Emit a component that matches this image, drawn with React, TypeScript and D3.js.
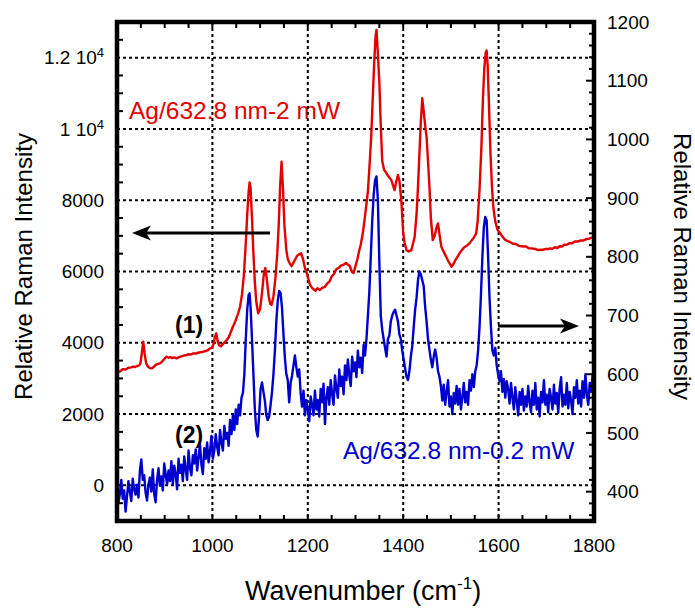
import React from "react";
import * as d3 from "d3";

// red spectrum (left axis), [wavenumber, intensity]
const redSpectrum: [number, number][] = [
  [800,3230],[806,3190],[812,3260],[818,3250],[824,3300],[830,3310],[834,3330],[838,3320],[842,3350],[846,3360],
  [849,3420],[852,3700],[855,4030],[858,3700],[861,3430],[865,3330],[869,3290],[873,3283],[877,3320],[881,3380],
  [885,3400],[890,3423],[895,3480],[900,3560],[904,3610],[908,3580],[912,3600],[916,3570],[920,3590],[925,3563],
  [930,3600],[935,3620],[940,3640],[946,3656],[950,3680],[955,3670],[960,3704],[965,3700],[970,3720],[975,3735],
  [981,3750],[986,3770],[990,3790],[995,3844],[999,3860],[1002,3950],[1005,4150],[1008,4265],[1011,4050],[1014,3930],
  [1018,3900],[1022,3960],[1026,4020],[1030,4077],[1034,4150],[1038,4280],[1043,4450],[1048,4600],[1054,4826],[1058,5012],
  [1062,5350],[1066,5900],[1070,6800],[1073,7600],[1076,8250],[1078,8500],[1080,8350],[1083,7500],[1086,6500],[1089,5700],
  [1092,5150],[1096,4830],[1100,4950],[1104,5400],[1108,5950],[1111,6100],[1114,5800],[1118,5300],[1121,5100],[1124,5060],
  [1128,5300],[1132,5800],[1136,6500],[1139,7300],[1142,8400],[1145,9080],[1148,8300],[1151,7300],[1155,6600],[1158,6350],
  [1162,6230],[1166,6150],[1170,6250],[1174,6350],[1178,6450],[1182,6480],[1186,6510],[1190,6350],[1194,6100],[1197,6000],
  [1201,5800],[1205,5620],[1208,5560],[1212,5500],[1216,5460],[1220,5530],[1225,5480],[1230,5540],[1235,5560],[1240,5650],
  [1246,5730],[1250,5860],[1255,5930],[1260,6070],[1265,6100],[1270,6170],[1275,6190],[1280,6240],[1284,6190],[1288,6160],
  [1292,6000],[1296,5960],[1300,6150],[1304,6350],[1308,6600],[1311,6750],[1315,7050],[1319,7450],[1323,7900],[1326,8250],
  [1330,9100],[1333,9800],[1336,10800],[1339,11800],[1342,12600],[1344,12780],[1347,12100],[1350,11300],[1353,10100],[1356,9100],
  [1360,8850],[1365,8755],[1370,8650],[1375,8567],[1379,8400],[1382,8286],[1385,8500],[1389,8707],[1392,8550],[1396,8006],
  [1400,7080],[1403,6800],[1407,6600],[1412,6560],[1417,6600],[1420,6750],[1424,6975],[1428,7600],[1431,8380],[1434,9300],
  [1437,10200],[1440,10860],[1443,10500],[1446,10100],[1449,9780],[1452,9100],[1455,8380],[1458,7500],[1462,6880],[1466,7000],
  [1470,7250],[1473,7350],[1476,7050],[1480,6695],[1485,6550],[1490,6415],[1495,6280],[1501,6135],[1505,6200],[1510,6330],
  [1514,6420],[1518,6510],[1523,6600],[1528,6680],[1533,6720],[1539,6790],[1544,6880],[1548,6950],[1553,7070],[1556,7400],
  [1560,8286],[1564,9500],[1567,10800],[1570,11700],[1573,12150],[1575,12200],[1577,11800],[1580,10600],[1583,9300],[1586,8400],
  [1589,7800],[1593,7400],[1598,7164],[1603,7080],[1608,6980],[1613,6900],[1618,6860],[1623,6830],[1630,6780],[1636,6770],
  [1642,6720],[1648,6710],[1653,6700],[1658,6700],[1663,6650],[1668,6650],[1673,6640],[1678,6630],[1683,6600],[1688,6610],
  [1693,6610],[1698,6630],[1703,6630],[1708,6650],[1713,6640],[1718,6680],[1723,6660],[1728,6710],[1733,6700],[1738,6750],
  [1743,6750],[1749,6800],[1754,6790],[1760,6840],[1766,6840],[1772,6870],[1778,6870],[1784,6910],[1790,6920],[1795,6950],
  [1800,6960],
];

// blue spectrum (right axis), [wavenumber, intensity]
const blueSpectrum: [number, number][] = [
  [800,410],[803,380],[806,396],[809,420],[812,388],[815,402],[818,366],[821,392],[824,418],[827,400],[830,384],[833,422],
  [836,404],[839,395],[842,412],[845,390],[848,436],[851,455],[854,420],[857,428],[860,398],[863,385],[866,412],[869,424],
  [872,400],[875,438],[878,396],[881,382],[884,420],[887,440],[890,410],[893,426],[896,402],[899,448],[902,430],[905,412],
  [908,436],[911,418],[914,452],[917,412],[920,444],[923,430],[926,404],[929,456],[932,432],[935,446],[938,418],[941,460],
  [944,438],[947,420],[950,470],[953,440],[956,428],[959,462],[962,448],[965,472],[968,436],[971,458],[974,480],[977,446],
  [980,430],[983,474],[986,456],[989,484],[992,450],[995,468],[998,495],[1001,456],[1004,470],[1007,498],[1010,476],[1013,462],
  [1016,505],[1019,484],[1022,470],[1025,512],[1028,490],[1031,500],[1034,478],[1037,522],[1040,498],[1043,530],[1046,505],[1049,540],
  [1052,515],[1055,548],[1058,530],[1061,560],[1064,568],[1067,600],[1070,660],[1073,710],[1076,735],[1078,738],[1080,715],[1083,660],
  [1086,600],[1089,540],[1092,505],[1095,494],[1098,530],[1101,575],[1104,586],[1107,570],[1110,555],[1113,530],[1116,522],[1119,528],
  [1122,548],[1125,570],[1128,600],[1131,640],[1134,690],[1137,725],[1140,742],[1143,738],[1146,712],[1149,668],[1152,628],[1155,600],
  [1158,590],[1161,552],[1164,585],[1167,598],[1170,615],[1173,632],[1176,612],[1179,596],[1182,608],[1185,568],[1188,545],[1191,572],
  [1194,530],[1197,556],[1200,540],[1203,520],[1206,562],[1209,548],[1212,530],[1215,572],[1218,540],[1221,556],[1224,528],[1227,575],
  [1230,552],[1233,584],[1236,515],[1239,560],[1242,578],[1245,548],[1248,590],[1251,566],[1254,548],[1257,598],[1260,575],[1263,560],
  [1266,608],[1269,580],[1272,596],[1275,566],[1278,615],[1281,590],[1284,625],[1287,598],[1290,580],[1293,630],[1296,605],[1299,620],
  [1302,595],[1305,640],[1308,612],[1311,628],[1314,602],[1317,650],[1320,632],[1323,660],[1326,700],[1329,740],[1332,800],[1335,860],
  [1338,905],[1341,930],[1344,937],[1347,895],[1350,790],[1353,700],[1356,676],[1359,660],[1362,645],[1365,630],[1368,660],[1371,666],
  [1374,690],[1377,700],[1380,706],[1383,710],[1386,700],[1389,690],[1392,668],[1395,660],[1398,640],[1401,625],[1404,610],[1407,596],
  [1410,590],[1413,605],[1416,630],[1419,648],[1422,680],[1425,710],[1428,730],[1431,760],[1434,775],[1437,770],[1440,760],[1443,750],
  [1446,715],[1449,690],[1452,660],[1455,642],[1458,625],[1461,612],[1464,630],[1467,642],[1470,628],[1473,605],[1476,596],[1479,580],
  [1482,555],[1485,582],[1488,548],[1491,570],[1494,590],[1497,545],[1500,562],[1503,532],[1506,568],[1509,550],[1512,580],[1515,548],
  [1518,575],[1521,540],[1524,560],[1527,585],[1530,552],[1533,570],[1536,548],[1539,590],[1542,572],[1545,600],[1548,578],[1551,605],
  [1554,615],[1557,640],[1560,680],[1563,735],[1566,800],[1569,850],[1572,868],[1575,862],[1578,800],[1581,730],[1584,680],[1587,640],
  [1590,632],[1593,645],[1596,615],[1599,600],[1602,588],[1605,605],[1608,570],[1611,592],[1614,560],[1617,588],[1620,575],[1623,550],
  [1626,585],[1629,560],[1632,540],[1635,578],[1638,555],[1641,530],[1644,570],[1647,548],[1650,575],[1653,538],[1656,562],[1659,545],
  [1662,580],[1665,552],[1668,535],[1671,572],[1674,548],[1677,585],[1680,540],[1683,560],[1686,528],[1689,570],[1692,552],[1695,590],
  [1698,548],[1701,565],[1704,535],[1707,575],[1710,560],[1713,540],[1716,582],[1719,550],[1722,568],[1725,534],[1728,575],[1731,595],
  [1734,545],[1737,565],[1740,548],[1743,585],[1746,542],[1749,570],[1752,555],[1755,532],[1758,578],[1761,560],[1764,590],[1767,550],
  [1770,572],[1773,545],[1776,588],[1779,560],[1782,600],[1785,565],[1788,548],[1791,585],[1794,570],[1797,598],[1800,575],
];

const xTicks = [800, 1000, 1200, 1400, 1600, 1800];
const leftTicks = [0, 2000, 4000, 6000, 8000, 10000, 12000];
const leftTickLabels = ["0", "2000", "4000", "6000", "8000", "1 10^4", "1.2 10^4"];
const rightTicks = [400, 500, 600, 700, 800, 900, 1000, 1100, 1200];

const W = 695, H = 608;
const L = 117, R = 594, T = 22, B = 521;
const FONT = "'Liberation Sans', Arial, Helvetica, sans-serif";
const RED = "#e30000";
const BLUE = "#0000cc";

export default function App() {
  const x = d3.scaleLinear().domain([800, 1800]).range([L, R]);
  const yL = d3.scaleLinear().domain([-1000, 13000]).range([B, T]);
  const yR = d3.scaleLinear().domain([350, 1200]).range([B, T]);

  const redLine = d3.line<[number, number]>().x(d => x(d[0])).y(d => yL(d[1]));
  const blueLine = d3.line<[number, number]>().x(d => x(d[0])).y(d => yR(d[1]));

  const xMinor = d3.range(850, 1800, 50);
  const leftMinor = d3.range(-500, 13000, 500).filter(v => v % 2000 !== 0);
  const rightMinor = d3.range(360, 1200, 20).filter(v => v % 100 !== 0);

  return (
    <svg width={W} height={H} style={{ position: "absolute", left: 0, top: 0, background: "#fff" }} fontFamily={FONT}>
      <defs>
        <clipPath id="plot">
          <rect x={L} y={T} width={R - L} height={B - T} />
        </clipPath>
      </defs>

      {/* labels inside the plot */}
      <text x={129} y={119} fontSize={24.5} fill={RED}>Ag/632.8 nm-2 mW</text>
      <text x={343} y={459} fontSize={24.5} fill={BLUE}>Ag/632.8 nm-0.2 mW</text>
      <text x={175} y={333} fontSize={23} fontWeight="bold">(1)</text>
      <text x={175} y={443} fontSize={23} fontWeight="bold">(2)</text>

      {/* dotted grid */}
      <g stroke="#000" strokeWidth={2} strokeDasharray="3,3">
        {xTicks.slice(1, -1).map(v => (
          <line key={"gx" + v} x1={x(v)} x2={x(v)} y1={T} y2={B} />
        ))}
        {leftTicks.map(v => (
          <line key={"gy" + v} x1={L} x2={R} y1={yL(v)} y2={yL(v)} />
        ))}
      </g>

      {/* spectra */}
      <g clipPath="url(#plot)" fill="none" strokeLinejoin="round">
        <path d={blueLine(blueSpectrum) || ""} stroke={BLUE} strokeWidth={2.4} />
        <path d={redLine(redSpectrum) || ""} stroke={RED} strokeWidth={2.4} />
      </g>

      {/* arrows */}
      <g stroke="#000" strokeWidth={3}>
        <line x1={270} x2={146} y1={233} y2={233} />
        <line x1={498} x2={565} y1={326} y2={326} />
      </g>
      <path d="M132,233 L151,225.5 L146,233 L151,240.5 Z" fill="#000" />
      <path d="M579,326 L560,318.5 L565,326 L560,333.5 Z" fill="#000" />

      {/* ticks */}
      <g stroke="#000" strokeWidth={2}>
        {xMinor.map(v => (
          <g key={"tx" + v}>
            <line x1={x(v)} x2={x(v)} y1={B} y2={B - 6} />
            <line x1={x(v)} x2={x(v)} y1={T} y2={T + 6} />
          </g>
        ))}
        {leftMinor.map(v => (
          <line key={"tl" + v} x1={L} x2={L + 6} y1={yL(v)} y2={yL(v)} />
        ))}
        {rightTicks.map(v => (
          <line key={"tr" + v} x1={R} x2={R - 8} y1={yR(v)} y2={yR(v)} />
        ))}
        {rightMinor.map(v => (
          <line key={"trm" + v} x1={R} x2={R - 5} y1={yR(v)} y2={yR(v)} />
        ))}
      </g>

      {/* frame */}
      <rect x={L} y={T} width={R - L} height={B - T} fill="none" stroke="#000" strokeWidth={4.5} />

      {/* tick labels */}
      <g fontSize={19} fill="#000">
        {xTicks.map(v => (
          <text key={"lx" + v} x={x(v)} y={552} textAnchor="middle">{v}</text>
        ))}
        {leftTicks.map((v, i) => {
          const [base, exp] = leftTickLabels[i].split("^");
          return (
            <text key={"ll" + v} x={104} y={yL(v)} dy="0.35em" textAnchor="end">
              {base}
              {exp && <tspan dy={-7} fontSize={13}>{exp}</tspan>}
            </text>
          );
        })}
        {rightTicks.map(v => (
          <text key={"lr" + v} x={607} y={yR(v)} dy="0.35em" textAnchor="start">{v}</text>
        ))}
      </g>

      {/* axis titles */}
      <text x={245} y={600} fontSize={27} fill="#000">
        Wavenumber (cm<tspan dy={-11} fontSize={17}>-1</tspan><tspan dy={11}>)</tspan>
      </text>
      <text transform={`translate(32,${(T + B) / 2 - 5}) rotate(-90)`} textAnchor="middle" fontSize={24} fill="#000">
        Relative Raman Intensity
      </text>
      <text transform={`translate(674,${(T + B) / 2 - 5}) rotate(90)`} textAnchor="middle" fontSize={24} fill="#000">
        Relative Raman Intensity
      </text>
    </svg>
  );
}
